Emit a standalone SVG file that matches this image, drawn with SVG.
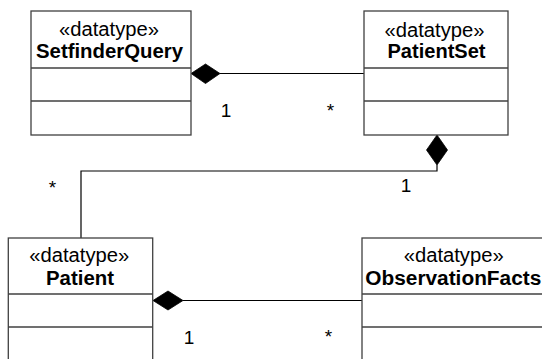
<svg xmlns="http://www.w3.org/2000/svg" width="542" height="359" viewBox="0 0 542 359">
<style>
.box{fill:#fff;stroke:#404040;stroke-width:1.3}
.div{stroke:#404040;stroke-width:1.3}
.st{font-family:"Liberation Sans",Arial,sans-serif;font-size:19.5px;fill:#000;text-anchor:middle}
.nm{font-family:"Liberation Sans",Arial,sans-serif;font-size:19.5px;font-weight:bold;fill:#000;text-anchor:middle}
.lb{font-family:"Liberation Sans",Arial,sans-serif;font-size:19px;fill:#000;text-anchor:middle}
.ln{fill:none;stroke:#000;stroke-width:1.2}
.dm{fill:#000;stroke:#000;stroke-width:0.8}
</style>
<rect width="542" height="359" fill="#fff"/>
<g id="connectors">
<line class="ln" x1="220" y1="73.5" x2="364" y2="73.5"/>
<polygon class="dm" points="191,73.5 205.5,64 220,73.5 205.5,83.5"/>
<polyline class="ln" points="437,165 437,171 81,171 81,238"/>
<polygon class="dm" points="437,135 447.5,150 437,165 426.5,150"/>
<line class="ln" x1="183" y1="300.5" x2="362" y2="300.5"/>
<polygon class="dm" points="153,300.5 168,291 183,300.5 168,310"/>
<text class="lb" x="226" y="117">1</text>
<text class="lb" x="330.5" y="116.5">*</text>
<text class="lb" x="406" y="192">1</text>
<text class="lb" x="52.5" y="193.5">*</text>
<text class="lb" x="189" y="344">1</text>
<text class="lb" x="328.5" y="342.5">*</text>
</g>
<g id="SetfinderQuery">
<rect class="box" x="31" y="11" width="160" height="124"/>
<line class="div" x1="31" y1="68" x2="191" y2="68"/>
<line class="div" x1="31" y1="101" x2="191" y2="101"/>
<text class="st" x="109" y="36" textLength="100" lengthAdjust="spacingAndGlyphs">«datatype»</text>
<text class="nm" x="109.5" y="58" textLength="147" lengthAdjust="spacingAndGlyphs">SetfinderQuery</text>
</g>
<g id="PatientSet">
<rect class="box" x="364" y="11" width="144" height="124"/>
<line class="div" x1="364" y1="68" x2="508" y2="68"/>
<line class="div" x1="364" y1="101" x2="508" y2="101"/>
<text class="st" x="434.5" y="36.5" textLength="100" lengthAdjust="spacingAndGlyphs">«datatype»</text>
<text class="nm" x="436.5" y="58.3" textLength="98" lengthAdjust="spacingAndGlyphs">PatientSet</text>
</g>
<g id="Patient">
<rect class="box" x="8.3" y="238" width="144.4" height="140"/>
<line class="div" x1="8.3" y1="294" x2="152.7" y2="294"/>
<line class="div" x1="8.3" y1="327" x2="152.7" y2="327"/>
<text class="st" x="79.3" y="262.3" textLength="100" lengthAdjust="spacingAndGlyphs">«datatype»</text>
<text class="nm" x="80" y="284.5" textLength="68" lengthAdjust="spacingAndGlyphs">Patient</text>
</g>
<g id="ObservationFacts">
<rect class="box" x="362" y="238" width="184" height="140"/>
<line class="div" x1="362" y1="294" x2="546" y2="294"/>
<line class="div" x1="362" y1="327" x2="546" y2="327"/>
<text class="st" x="453.7" y="262" textLength="100" lengthAdjust="spacingAndGlyphs">«datatype»</text>
<text class="nm" x="453.3" y="285" textLength="176" lengthAdjust="spacingAndGlyphs">ObservationFacts</text>
</g>
</svg>
